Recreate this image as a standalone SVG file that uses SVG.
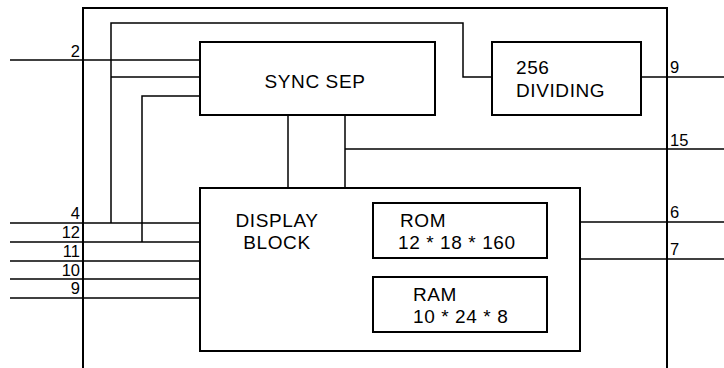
<svg xmlns="http://www.w3.org/2000/svg" width="724" height="368" viewBox="0 0 724 368">
<style>
.box{fill:#fff;stroke:#000;stroke-width:2}
.frame{fill:none;stroke:#000;stroke-width:2}
.wire{fill:none;stroke:#000;stroke-width:1.5}
.t{font-family:"Liberation Sans",Arial,Helvetica,sans-serif;font-size:19px;letter-spacing:0.6px;fill:#000}
.pin{font-family:"Liberation Sans",Arial,Helvetica,sans-serif;font-size:16.5px;fill:#000}
.r{text-anchor:end}
</style>
<rect width="724" height="368" fill="#fff"/>
<g id="frame">
<path class="frame" d="M83,368 V8 H667 V368"/>
</g>
<g id="connectors">
<path class="wire" d="M10,60 H200"/>
<path class="wire" d="M111,223 V23 H463 V77 H492"/>
<path class="wire" d="M111,77 H200"/>
<path class="wire" d="M142,242 V96 H200"/>
<path class="wire" d="M288,115 V188"/>
<path class="wire" d="M345,115 V188"/>
<path class="wire" d="M345,149 H724"/>
<path class="wire" d="M641,77 H724"/>
<path class="wire" d="M10,223 H200"/>
<path class="wire" d="M10,242 H200"/>
<path class="wire" d="M10,261 H200"/>
<path class="wire" d="M10,279 H200"/>
<path class="wire" d="M10,298 H200"/>
<path class="wire" d="M580,222 H724"/>
<path class="wire" d="M580,259 H724"/>
</g>
<g id="pin-labels">
<text class="pin r" x="80" y="57">2</text>
<text class="pin r" x="80" y="219">4</text>
<text class="pin r" x="80" y="238">12</text>
<text class="pin r" x="80" y="257">11</text>
<text class="pin r" x="80" y="276">10</text>
<text class="pin r" x="80" y="294">9</text>
<text class="pin" x="670" y="73">9</text>
<text class="pin" x="670" y="146">15</text>
<text class="pin" x="670" y="218">6</text>
<text class="pin" x="670" y="255">7</text>
</g>
<g id="sync-sep">
<rect class="box" x="200" y="42" width="235" height="73"/>
<text class="t" x="315" y="88" text-anchor="middle">SYNC SEP</text>
</g>
<g id="dividing">
<rect class="box" x="492" y="42" width="149" height="73"/>
<text class="t" x="516" y="74">256</text>
<text class="t" x="516" y="97">DIVIDING</text>
</g>
<g id="display-block">
<rect class="box" x="200" y="188" width="380" height="163"/>
<text class="t" x="277" y="227" text-anchor="middle">DISPLAY</text>
<text class="t" x="277" y="249" text-anchor="middle">BLOCK</text>
</g>
<g id="rom">
<rect class="box" x="373" y="203" width="174" height="55"/>
<text class="t" x="400" y="227">ROM</text>
<text class="t" x="398" y="249">12 * 18 * 160</text>
</g>
<g id="ram">
<rect class="box" x="373" y="277" width="174" height="55"/>
<text class="t" x="413" y="301">RAM</text>
<text class="t" x="413" y="323">10 * 24 * 8</text>
</g>
</svg>
